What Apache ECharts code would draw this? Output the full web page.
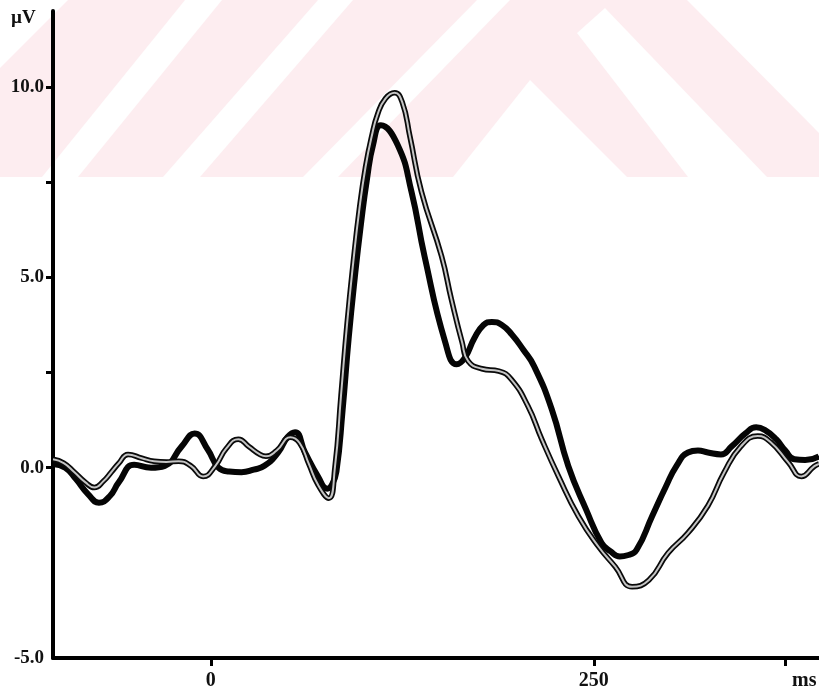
<!DOCTYPE html>
<html>
<head>
<meta charset="utf-8">
<script src="https://cdn.jsdelivr.net/npm/echarts@6.0.0/dist/echarts.min.js"></script>
<style>
  html, body { margin: 0; padding: 0; background: #fff; }
  #chart { width: 819px; height: 695px; }
</style>
</head>
<body>
<div id="chart"></div>
<script>
// Grand-average waveforms, time in ms relative to stimulus onset, amplitude in µV
const timesA = [-103, -95, -88, -80, -73, -66, -60, -50, -39, -30, -19, -10.6, -2, 5, 12, 20, 28, 35, 44, 50, 55, 61.5, 70, 76, 79, 82, 86, 90, 94, 98, 102, 106, 111, 122, 131, 139.5, 153, 160.5, 166, 172, 178, 183.5, 190, 196.5, 204, 211, 222.6, 233.4, 245, 255, 261, 267, 272, 278, 288, 297, 304, 311.5, 318, 324.5, 333, 340, 349, 356, 362, 369, 375, 381, 388, 397];
const valuesA = [0.1, 0.0, -0.3, -0.7, -0.92, -0.75, -0.38, 0.08, 0.0, 0.05, 0.56, 0.9, 0.48, 0.0, -0.1, -0.12, -0.05, 0.05, 0.4, 0.8, 0.93, 0.4, -0.23, -0.55, -0.45, -0.1, 1.5, 3.4, 5.0, 6.4, 7.6, 8.5, 9.0, 8.48, 7.25, 5.56, 3.3, 2.72, 2.9, 3.4, 3.75, 3.83, 3.75, 3.5, 3.1, 2.67, 1.53, 0.04, -1.1, -1.97, -2.2, -2.33, -2.3, -2.15, -1.28, -0.5, 0.05, 0.4, 0.45, 0.4, 0.35, 0.56, 0.9, 1.06, 0.98, 0.75, 0.45, 0.22, 0.2, 0.3];

const timesB = [-103, -96, -89, -82, -76, -70, -65, -60, -54, -45, -37, -29, -21, -13, -5, 3, 10, 18, 25, 32, 36, 43, 52, 58, 64, 70, 77, 81, 85, 89, 93, 97, 101, 105, 109, 114, 120, 125, 130, 137.5, 150.6, 157, 164, 168, 177, 188, 196, 207, 216, 227, 240, 253, 264, 275, 286, 298.5, 311.5, 324.5, 335, 346, 357, 365.5, 377, 385.5, 394, 397];
const valuesB = [0.22, 0.12, -0.12, -0.38, -0.52, -0.35, -0.12, 0.12, 0.35, 0.25, 0.17, 0.15, 0.17, 0.05, -0.23, 0.05, 0.5, 0.75, 0.55, 0.35, 0.3, 0.45, 0.8, 0.65, 0.1, -0.45, -0.8, 0.0, 1.9, 3.8, 5.4, 6.8, 7.9, 8.7, 9.3, 9.7, 9.85, 9.6, 8.7, 7.25, 5.56, 4.43, 3.3, 2.8, 2.6, 2.54, 2.33, 1.62, 0.75, -0.23, -1.28, -2.07, -2.6, -3.13, -2.95, -2.24, -1.71, -1.0, -0.13, 0.56, 0.83, 0.67, 0.14, -0.23, 0.04, 0.1];

// Axis ticks and labels
const xTickValues = [0, 250, 375];
const xLabelValues = [0, 250];
const yTickValues = [0, 2.5, 5, 7.5, 10];
const yLabelValues = [-5, 0, 5, 10];

const dataA = timesA.map((t, i) => [t, valuesA[i]]);
const dataB = timesB.map((t, i) => [t, valuesB[i]]);

// Faint pink letterhead pattern across the top band
const bandColor = '#fdedf0';
const whiteCuts = [
  [[0, 0], [68, 0], [0, 68]],
  [[185, 0], [222, 0], [78, 177], [42, 177]],
  [[318, 0], [353, 0], [200, 177], [163, 177]],
  [[477, 0], [510, 0], [338, 177], [303, 177]],
  [[577, 33], [605, 8], [767, 177], [688, 177]],
  [[530, 80], [627, 177], [453, 177]],
  [[687, 0], [819, 0], [819, 133]]
];

const serif = '"Liberation Serif", "DejaVu Serif", serif';

const graphicEls = [
  { type: 'rect', silent: true, z: -20, shape: { x: 0, y: 0, width: 819, height: 177 }, style: { fill: bandColor } }
].concat(whiteCuts.map(pts => ({
  type: 'polygon', silent: true, z: -19, shape: { points: pts }, style: { fill: '#ffffff' }
}))).concat([
  { type: 'text', silent: true, z: 10, left: 11, top: 9,
    style: { text: 'µV', font: 'bold 19px ' + serif, fill: '#111' } },
  { type: 'text', silent: true, z: 10, left: 792, top: 671,
    style: { text: 'ms', font: 'bold 20px ' + serif, fill: '#111' } }
]);

const chart = echarts.init(document.getElementById('chart'));
chart.setOption({
  animation: false,
  backgroundColor: '#ffffff',
  graphic: { elements: graphicEls },
  grid: { left: 53, right: 0, top: 11, bottom: 37, containLabel: false },
  xAxis: {
    type: 'value', min: -103, max: 397,
    axisLine: { onZero: false, lineStyle: { color: '#000', width: 4 } },
    axisTick: { customValues: xTickValues, length: 8, lineStyle: { color: '#000', width: 3 } },
    axisLabel: { customValues: xLabelValues, margin: 13, color: '#111',
      fontFamily: serif, fontWeight: 'bold', fontSize: 20 },
    splitLine: { show: false }
  },
  yAxis: {
    type: 'value', min: -5, max: 12,
    axisLine: { show: true, onZero: false, lineStyle: { color: '#000', width: 4 } },
    axisTick: { show: true, customValues: yTickValues, length: 7, lineStyle: { color: '#000', width: 3 } },
    axisLabel: { customValues: yLabelValues, margin: 9, color: '#111',
      fontFamily: serif, fontWeight: 'bold', fontSize: 19,
      formatter: v => v.toFixed(1) },
    splitLine: { show: false }
  },
  series: [
    { type: 'line', data: dataA, smooth: 0.5, showSymbol: false, z: 3,
      lineStyle: { color: '#050505', width: 6 } },
    { type: 'line', data: dataB, smooth: 0.5, showSymbol: false, z: 4,
      lineStyle: { color: '#0a0a0a', width: 5.5 } },
    { type: 'line', data: dataB, smooth: 0.5, showSymbol: false, z: 5,
      lineStyle: { color: '#c4c4c4', width: 2 } }
  ]
});
</script>
</body>
</html>
